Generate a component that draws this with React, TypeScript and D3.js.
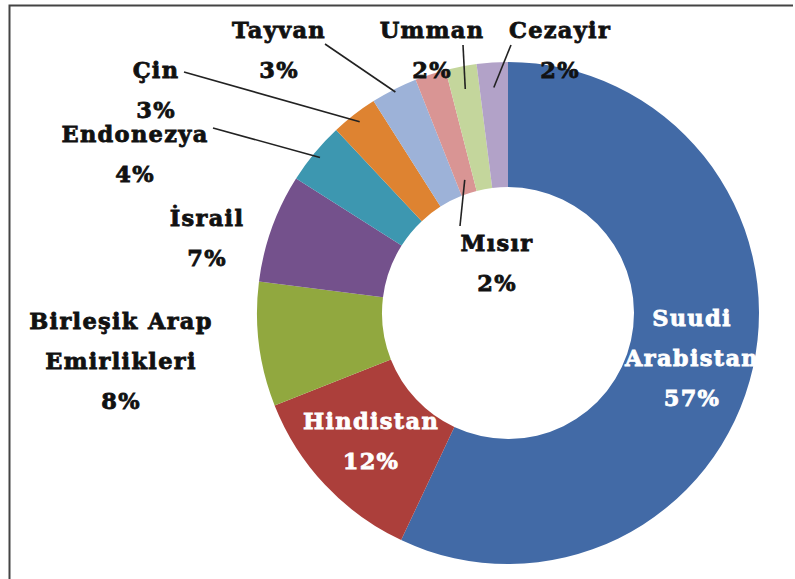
import React, { useRef, useEffect } from 'react';
import * as d3 from 'd3';

const countries: string[] = [
    'Suudi Arabistan', 'Hindistan', 'Birleşik Arap Emirlikleri', 'İsrail', 'Endonezya',
    'Çin', 'Tayvan', 'Mısır', 'Umman', 'Cezayir',
];
const shares: number[] = [57, 12, 8, 7, 4, 3, 3, 2, 2, 2];
const colors: string[] = [
    '#426AA6', '#AC3F3B', '#91A83F', '#74518C', '#3D97B0',
    '#DE8331', '#9DB2D8', '#D99594', '#C4D69C', '#B2A2C8',
];

// label layout: text lines, anchor point, text colour, optional leader line start
const labelLayout = [
    { lines: ['Suudi', 'Arabistan'], x: 692, y: 318, fill: '#fff' },
    { lines: ['Hindistan'], x: 371, y: 421, fill: '#fff' },
    { lines: ['Birleşik Arap', 'Emirlikleri'], x: 121, y: 321, fill: '#111' },
    { lines: ['İsrail'], x: 207, y: 218, fill: '#111' },
    { lines: ['Endonezya'], x: 135, y: 134, fill: '#111', lead: [213, 128], r: 244 },
    { lines: ['Çin'], x: 156, y: 70, fill: '#111', lead: [184, 72], r: 242 },
    { lines: ['Tayvan'], x: 279, y: 30, fill: '#111', lead: [325, 44], r: 248 },
    { lines: ['Mısır'], x: 497, y: 243, fill: '#111', lead: [460, 226], r: 140 },
    { lines: ['Umman'], x: 432, y: 30, fill: '#111', lead: [463, 45], r: 228 },
    { lines: ['Cezayir'], x: 560, y: 30, fill: '#111', lead: [511, 45], r: 226 },
];

const App: React.FC = () => {
    const svgRef = useRef<SVGSVGElement | null>(null);

    useEffect(() => {
        const width = 795;
        const height = 579;
        const cx = 508;
        const cy = 313;
        const outerR = 251;
        const innerR = 126;

        const svg = d3.select(svgRef.current)
            .attr('width', width)
            .attr('height', height)
            .style('position', 'absolute')
            .style('left', '0px')
            .style('top', '0px')
            .style('display', 'block');
        svg.selectAll('*').remove();

        svg.append('rect').attr('width', width).attr('height', height).attr('fill', '#fff');

        // frame (only top and left edges are inside the picture)
        svg.append('path')
            .attr('d', `M9.5,${height} L9.5,5.5 L793,5.5`)
            .attr('fill', 'none')
            .attr('stroke', '#444')
            .attr('stroke-width', 2);

        const data = countries.map((c, i) => ({ name: c, value: shares[i], color: colors[i] }));
        const pie = d3.pie<typeof data[0]>().value(d => d.value).sort(null);
        const arcs = pie(data);
        const arc = d3.arc<d3.PieArcDatum<typeof data[0]>>().innerRadius(innerR).outerRadius(outerR);

        const g = svg.append('g').attr('transform', `translate(${cx},${cy})`);
        g.selectAll('path.slice')
            .data(arcs)
            .enter()
            .append('path')
            .attr('class', 'slice')
            .attr('d', arc)
            .attr('fill', d => d.data.color);

        // leader lines
        arcs.forEach((a, i) => {
            const lay = labelLayout[i] as any;
            if (!lay.lead) return;
            const mid = (a.startAngle + a.endAngle) / 2;
            const ex = cx + Math.sin(mid) * lay.r;
            const ey = cy - Math.cos(mid) * lay.r;
            svg.append('line')
                .attr('x1', lay.lead[0]).attr('y1', lay.lead[1])
                .attr('x2', ex).attr('y2', ey)
                .attr('stroke', '#222')
                .attr('stroke-width', 1.6);
        });

        // labels
        arcs.forEach((a, i) => {
            const lay = labelLayout[i];
            const lines = [...lay.lines, `${a.data.value}%`];
            const t = svg.append('text')
                .attr('text-anchor', 'middle')
                .attr('dominant-baseline', 'central')
                .style('font-family', '"DejaVu Serif", serif')
                .style('font-weight', 'bold')
                .style('font-size', '22.5px')
                .style('letter-spacing', '1.3px')
                .attr('fill', lay.fill)
                .attr('stroke', lay.fill)
                .attr('stroke-width', 0.8);
            lines.forEach((ln, j) => {
                t.append('tspan')
                    .attr('x', lay.x)
                    .attr('y', lay.y + j * 40)
                    .text(ln);
            });
        });
    }, []);

    return <svg ref={svgRef}></svg>;
};

export default App;
